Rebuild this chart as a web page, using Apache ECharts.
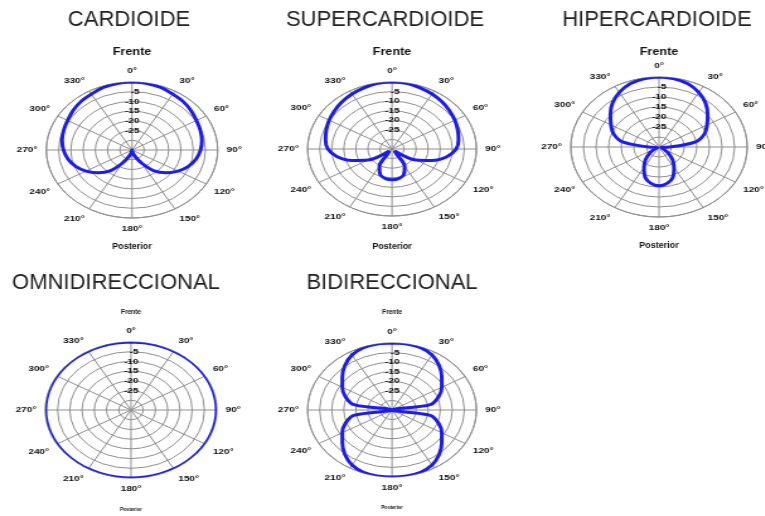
<!DOCTYPE html>
<html>
<head>
<meta charset="utf-8">
<script src="https://cdn.jsdelivr.net/npm/echarts@6/dist/echarts.min.js"></script>
<style>
html,body{margin:0;padding:0;background:#fff;overflow:hidden;}
#wrap{width:765px;height:516px;overflow:hidden;position:relative;}
#chart{width:607px;height:516px;transform:scaleX(1.26);transform-origin:0 0;}
</style>
</head>
<body>
<div id="wrap"><div id="chart"></div></div>
<script>
// ---- data ----
const titles = ['CARDIOIDE', 'SUPERCARDIOIDE', 'HIPERCARDIOIDE', 'OMNIDIRECCIONAL', 'BIDIRECCIONAL'];
const frontLabel = 'Frente';
const rearLabel = 'Posterior';
const radiusTicks = [-35, -30, -25, -20, -15, -10, -5, 0];
const shownRadiusLabels = ['-5', '-10', '-15', '-20', '-25'];
const angles = [0,10,20,30,40,50,60,70,80,90,100,110,120,130,140,150,160,170,180,
                190,200,210,220,230,240,250,260,270,280,290,300,310,320,330,340,350,360];
// level in dB at each angle
const cardioide = [0,-0.2,-0.7,-1.8,-2.5,-3.5,-4.6,-5.3,-6.0,-7.0,-8.4,-10.5,-13.3,-16.8,-21.0,-27.3,-31.5,-33.6,-35,
                   -33.6,-31.5,-27.3,-21.0,-16.8,-13.3,-10.5,-8.4,-7.0,-6.0,-5.3,-4.6,-3.5,-2.5,-1.8,-0.7,-0.2,0];
const supercardioide = [0,-0.2,-1.0,-1.8,-2.8,-3.9,-4.9,-6.0,-7.0,-8.4,-11.9,-17.5,-23.5,-33.3,-32.9,-24.5,-20.7,-19.3,-18.9,
                        -19.3,-20.7,-24.5,-32.9,-33.3,-23.5,-17.5,-11.9,-8.4,-7.0,-6.0,-4.9,-3.9,-2.8,-1.8,-1.0,-0.2,0];
const hipercardioide = [0,-0.4,-1.4,-3.5,-6.3,-9.8,-13.0,-15.8,-20.3,-30.8,-34.0,-34.3,-32.9,-30.1,-26.6,-23.1,-18.9,-16.5,-15.6,
                        -16.5,-18.9,-23.1,-26.6,-30.1,-32.9,-34.3,-34.0,-30.8,-20.3,-15.8,-13.0,-9.8,-6.3,-3.5,-1.4,-0.4,0];
const omnidireccional = [0,0,0,0,0,0,0,0,0,0,0,0,0,0,0,0,0,0,0,
                         0,0,0,0,0,0,0,0,0,0,0,0,0,0,0,0,0,0];
const bidireccional = [0,0,-0.4,-1.8,-4.6,-8.1,-11.2,-14.4,-18.9,-35,-18.9,-14.4,-11.2,-8.1,-4.6,-1.8,-0.4,0,0,
                       0,-0.4,-1.8,-4.6,-8.1,-11.2,-14.4,-18.9,-35,-18.9,-14.4,-11.2,-8.1,-4.6,-1.8,-0.4,0,0];
const patterns = [cardioide, supercardioide, hipercardioide, omnidireccional, bidireccional];

// ---- layout (page coordinates; the chart is drawn then stretched horizontally) ----
const SX = 1.26;
const panels = [
  {cx: 132, cy: 150, r: 68, title: [129, 20], front: 52, rear: 247, small: false},
  {cx: 392, cy: 149, r: 67, title: [385, 20], front: 52, rear: 247, small: false},
  {cx: 659, cy: 147, r: 70, title: [657, 20], front: 52, rear: 246, small: false},
  {cx: 131, cy: 410, r: 68, title: [116, 283], front: 312, rear: 510, small: true},
  {cx: 392, cy: 410, r: 67, title: [392, 283], front: 312, rear: 508, small: true}
];
const sans = "'Liberation Sans', Arial, sans-serif";
const gridColor = '#8f8f8f';
const lineColor = '#1c1cf2';

const polar = [], angleAxis = [], radiusAxis = [], series = [], graphic = [];
panels.forEach((p, i) => {
  polar.push({center: [p.cx / SX, p.cy], radius: p.r});
  angleAxis.push({
    polarIndex: i, type: 'value', min: 0, max: 360, interval: 30,
    startAngle: 90, clockwise: true,
    axisLine: {show: true, lineStyle: {color: gridColor, width: 1}},
    axisTick: {show: false},
    splitLine: {show: true, lineStyle: {color: gridColor, width: 1}},
    axisLabel: {
      margin: 7, fontSize: 8, fontWeight: 'bold', color: '#111', fontFamily: sans,
      showMaxLabel: false,
      formatter: v => (v === 360 ? '' : v + '°')
    }
  });
  radiusAxis.push({
    polarIndex: i, type: 'value', min: radiusTicks[0], max: radiusTicks[radiusTicks.length - 1], interval: 5,
    axisLine: {show: false}, axisTick: {show: false},
    splitLine: {show: true, lineStyle: {color: gridColor, width: 1}},
    axisLabel: {
      margin: -6, fontSize: 8, fontWeight: 'bold', color: '#111', fontFamily: sans,
      formatter: v => (shownRadiusLabels.indexOf(String(v)) >= 0 ? String(v) : '')
    }
  });
  series.push({
    type: 'line', coordinateSystem: 'polar', polarIndex: i,
    data: angles.map((a, k) => [patterns[i][k], a]),
    smooth: 0.35, symbol: 'none', clip: false,
    lineStyle: {color: lineColor, width: 3}
  });
  graphic.push({
    type: 'text', x: p.title[0] / SX, y: p.title[1], scaleX: 1 / SX,
    style: {text: titles[i], font: '22px ' + sans, fill: '#222',
            textAlign: 'center', textVerticalAlign: 'middle'}
  });
  graphic.push({
    type: 'text', x: p.cx / SX, y: p.front, scaleX: p.small ? 1 / SX : 1,
    style: {text: frontLabel, font: 'bold ' + (p.small ? 6.5 : 10) + 'px ' + sans, fill: '#111',
            textAlign: 'center', textVerticalAlign: 'middle'}
  });
  graphic.push({
    type: 'text', x: p.cx / SX, y: p.rear, scaleX: 1 / SX,
    style: {text: rearLabel, font: 'bold ' + (p.small ? 5 : 9) + 'px ' + sans, fill: '#111',
            textAlign: 'center', textVerticalAlign: 'middle'}
  });
});

const chart = echarts.init(document.getElementById('chart'), null, {renderer: 'canvas'});
chart.setOption({
  animation: false,
  backgroundColor: '#fff',
  polar, angleAxis, radiusAxis, series, graphic
});
</script>
</body>
</html>
